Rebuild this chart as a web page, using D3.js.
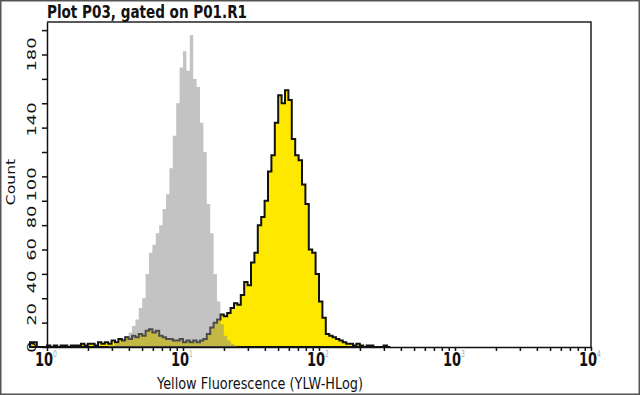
<!DOCTYPE html>
<html>
<head>
<meta charset="utf-8">
<script src="https://cdn.jsdelivr.net/npm/d3@7"></script>
<style>
  body { margin: 0; background: #fff; }
  svg { display: block; }
</style>
</head>
<body>
<div id="chart"></div>
<script>
// Histogram bins, 40 bins per decade on the log axis
const binsPerDecade = 40;

// Control (gray), first bin index
const grayStart = 18;
const grayCounts = [1, 1, 2, 3, 4, 6, 9, 13, 17, 24, 30, 45, 58, 63, 70, 75, 85, 94, 110, 130,
    150, 172, 182, 170, 192, 165, 160, 138, 120, 88, 70, 45, 28, 14, 7, 4, 2, 1];

// Stained sample (yellow), first bin index
const yellowStart = -5;
const yellowCounts = [3, 3, 0, 0, 0,
    1, 0, 1, 0, 1, 1, 0, 1, 1, 1,
    2, 1, 2, 2, 1, 3, 2, 3, 2, 4,
    3, 5, 4, 6, 5, 7, 6, 8, 7, 10,
    11, 9, 10, 7, 6, 5, 5, 4, 4, 5,
    3, 4, 3, 4, 3, 4, 5, 8, 12, 15,
    17, 20, 19, 21, 24, 27, 26, 32, 40, 38,
    52, 58, 75, 80, 90, 108, 118, 138, 155, 150,
    158, 152, 128, 118, 115, 100, 88, 60, 58, 45,
    28, 18, 8, 7, 6, 5, 4, 3, 2, 2,
    1, 2, 1, 0, 1, 1, 0, 0, 0, 1, 0];

// Axis labels
const yTickLabels = [0, 20, 40, 60, 80, 100, 140, 180];
const yMinorTicks = [0, 15, 30, 45, 60, 75, 90, 105, 120, 135, 150, 165, 180, 195];
const xDecades = [1, 10, 100, 1000, 10000];
const xExponents = ["0", "1", "2", "3", "4"];
const title = "Plot P03, gated on P01.R1";
const xTitle = "Yellow Fluorescence (YLW-HLog)";
const yTitle = "Count";

// SVG dimensions
const w = 640;
const h = 395;
const padLeft = 47;
const padRight = 591;
const padTop = 22;
const padBottom = 347;
const stretch = 1.55;  // text in the picture is drawn tall
const font = "DejaVu Sans, sans-serif";

const svg = d3.select("#chart")
    .append("svg")
    .attr("width", w)
    .attr("height", h);

// Scales
const xScale = d3.scaleLog()
    .domain([1, 10000])
    .range([padLeft, padRight]);

const yScale = d3.scaleLinear()
    .domain([0, 200])
    .range([padBottom, padTop]);

// Turn counts into bins with log edges
function toBins(start, counts) {
    return counts.map((c, i) => ({
        x0: Math.pow(10, (start + i) / binsPerDecade),
        x1: Math.pow(10, (start + i + 1) / binsPerDecade),
        n: c
    }));
}

// Step outline of a histogram
function stepPath(bins) {
    const pts = [[xScale(bins[0].x0), yScale(0)]];
    bins.forEach(b => {
        pts.push([xScale(b.x0), yScale(b.n)]);
        pts.push([xScale(b.x1), yScale(b.n)]);
    });
    pts.push([xScale(bins[bins.length - 1].x1), yScale(0)]);
    return d3.line()(pts) + "Z";
}

// Outer frame
svg.append("rect")
    .attr("x", 0.75)
    .attr("y", 0.75)
    .attr("width", w - 1.5)
    .attr("height", h - 1.5)
    .attr("fill", "none")
    .attr("stroke", "#555")
    .attr("stroke-width", 1.5);

// Yellow histogram with black outline
svg.append("path")
    .attr("d", stepPath(toBins(yellowStart, yellowCounts)))
    .attr("fill", "#ffe800")
    .attr("stroke", "#111")
    .attr("stroke-width", 2)
    .attr("stroke-linejoin", "miter");

// Gray control on top, half transparent
svg.append("path")
    .attr("d", stepPath(toBins(grayStart, grayCounts)))
    .attr("fill", "#888")
    .attr("fill-opacity", 0.5);

// Plot box
svg.append("path")
    .attr("d", "M" + padLeft + "," + padTop + "H" + padRight + "V" + padBottom)
    .attr("fill", "none")
    .attr("stroke", "#222")
    .attr("stroke-width", 1.5);

// Axes
const xAxis = d3.axisBottom(xScale)
    .tickValues(xScale.ticks())
    .tickSize(4)
    .tickSizeOuter(0)
    .tickFormat("");

const yAxis = d3.axisLeft(yScale)
    .tickValues(yMinorTicks)
    .tickSize(5)
    .tickSizeOuter(0)
    .tickFormat("");

svg.append("g")
    .attr("transform", "translate(0," + padBottom + ")")
    .call(xAxis)
    .call(g => g.selectAll("path, line").attr("stroke", "#111").attr("stroke-width", 1.5));

svg.append("g")
    .attr("transform", "translate(" + padLeft + ",0)")
    .call(yAxis)
    .call(g => g.selectAll("path, line").attr("stroke", "#111").attr("stroke-width", 1.5));

// Tall text helper
function tallText(x, y, str, size, rotate) {
    return svg.append("text")
        .attr("transform", "translate(" + x + "," + y + ") scale(1," + stretch + ")" + (rotate ? " rotate(-90)" : ""))
        .style("font-family", font)
        .style("font-size", size + "px")
        .attr("fill", "#111")
        .text(str);
}

// X labels: 10 with small exponent
xDecades.forEach((d, i) => {
    tallText(xScale(d) - 3, 366, "10", 13)
        .attr("text-anchor", "middle")
        .style("font-weight", "bold");
    tallText(xScale(d) + 6, 357, xExponents[i], 6).attr("fill", "#aaa");
});

// Y labels, rotated
yTickLabels.forEach(v => {
    tallText(36, yScale(v), String(v), 11.5, true).attr("text-anchor", "middle");
});

// Titles
tallText(47, 18, title, 11)
    .style("font-weight", "bold")
    .attr("textLength", 200)
    .attr("lengthAdjust", "spacingAndGlyphs");

tallText(260, 389, xTitle, 10.5)
    .attr("text-anchor", "middle")
    .attr("textLength", 206)
    .attr("lengthAdjust", "spacingAndGlyphs");

tallText(15, 182, yTitle, 11.5, true)
    .attr("text-anchor", "middle")
    .attr("textLength", 30)
    .attr("lengthAdjust", "spacingAndGlyphs");
</script>
</body>
</html>
